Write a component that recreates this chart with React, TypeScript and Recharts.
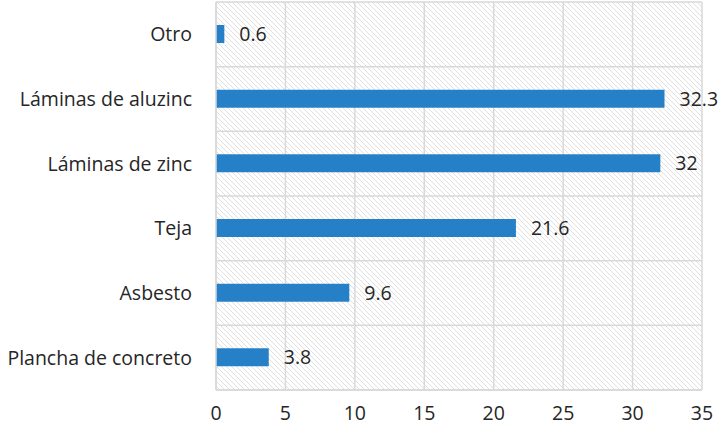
import { BarChart, Bar, XAxis, YAxis, CartesianGrid, LabelList } from 'recharts'

const categories = [
  'Otro',
  'Láminas de aluzinc',
  'Láminas de zinc',
  'Teja',
  'Asbesto ',
  'Plancha de concreto',
]
const values = [0.6, 32.3, 32, 21.6, 9.6, 3.8]
const xTicks = [0, 5, 10, 15, 20, 25, 30, 35]

const data = categories.map((name, i) => ({ name, value: values[i] }))

const FONT = '"Open Sans", sans-serif'
const GRID = '#d9d9d9'
const TEXT = '#262626'

export default function App() {
  // horizontal lines sit between the categories, not on them
  const bandLines = ({ offset }: any) =>
    categories.map((_, i) => offset.top + (i * offset.height) / categories.length).concat(offset.top + offset.height)

  return (
    <div style={{ position: 'absolute', left: 0, top: 0, width: 720, height: 430, background: '#fff' }}>
      <BarChart
        width={720}
        height={430}
        data={data}
        layout="vertical"
        margin={{ top: 2, right: 18, bottom: 0, left: 0 }}
        barSize={18}
      >
        <defs>
          <pattern id="hatch" patternUnits="userSpaceOnUse" width={5} height={5}>
            <rect width={5} height={5} fill="#fff" />
            <path d="M0,0 L5,5 M-1,4 L1,6 M4,-1 L6,1" stroke="#e0e0e0" strokeWidth={1} />
          </pattern>
        </defs>
        <CartesianGrid
          fill="url(#hatch)"
          stroke={GRID}
          strokeWidth={1.5}
          horizontalCoordinatesGenerator={bandLines}
        />
        <XAxis
          type="number"
          domain={[0, 35]}
          ticks={xTicks}
          height={40}
          axisLine={{ stroke: GRID, strokeWidth: 1.5 }}
          tickLine={false}
          tickMargin={10}
          tick={{ fill: TEXT, fontSize: 19.5, fontFamily: FONT }}
        />
        <YAxis
          type="category"
          dataKey="name"
          width={216}
          axisLine={{ stroke: GRID, strokeWidth: 1.5 }}
          tickLine={false}
          tickMargin={18}
          tick={{ fill: TEXT, fontSize: 19.5, fontFamily: FONT }}
        />
        <Bar dataKey="value" fill="#2680C8" isAnimationActive={false}>
          <LabelList
            dataKey="value"
            position="right"
            offset={15}
            fill={TEXT}
            fontSize={19.5}
            fontFamily={FONT}
          />
        </Bar>
      </BarChart>
    </div>
  )
}
